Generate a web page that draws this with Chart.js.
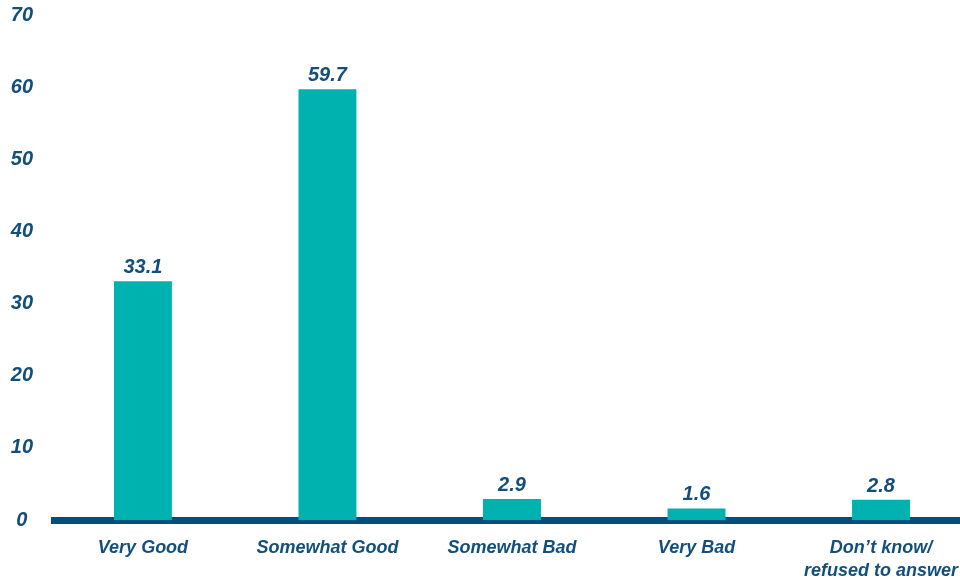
<!DOCTYPE html>
<html>
<head>
<meta charset="utf-8">
<script src="https://cdn.jsdelivr.net/npm/chart.js@4"></script>
<style>
  html, body { margin: 0; padding: 0; background: #ffffff; }
  #wrap { width: 960px; height: 580px; position: relative; }
</style>
</head>
<body>
<div id="wrap"><canvas id="chart"></canvas></div>
<script>
// categories and values
const categorias = ['Very Good', 'Somewhat Good', 'Somewhat Bad', 'Very Bad', ['Don\u2019t know/', 'refused to answer']];
const valores = [33.1, 59.7, 2.9, 1.6, 2.8];
const yTicks = [0, 10, 20, 30, 40, 50, 60, 70];

const corBarra = '#00B2AF';
const corTexto = '#124F7D';
const corBase = '#004F7F';
const fonte = 'Liberation Sans, Arial, sans-serif';

// rótulos de valor acima das barras
const rotulosPlugin = {
    id: 'rotulos',
    afterDatasetsDraw(chart) {
        const ctx = chart.ctx;
        const meta = chart.getDatasetMeta(0);
        ctx.save();
        ctx.font = 'italic bold 20px ' + fonte;
        ctx.fillStyle = corTexto;
        ctx.textAlign = 'center';
        ctx.textBaseline = 'alphabetic';
        meta.data.forEach((bar, i) => {
            ctx.fillText(valores[i].toFixed(1), bar.x, bar.y - 8);
        });
        ctx.restore();
    }
};

new Chart(document.getElementById('chart'), {
    type: 'bar',
    data: {
        datasets: [{
            data: valores.map((v, i) => ({ x: i, y: v })),
            backgroundColor: corBarra,
            borderWidth: 0,
            barPercentage: 0.314,
            categoryPercentage: 1
        }]
    },
    options: {
        responsive: true,
        maintainAspectRatio: false,
        animation: false,
        layout: { padding: { top: 0, left: 0, right: 0, bottom: 0 } },
        plugins: {
            legend: { display: false },
            tooltip: { enabled: false }
        },
        scales: {
            x: {
                type: 'linear',
                min: -0.482,
                max: 4.428,
                offset: false,
                z: 1,
                grid: { display: false, offset: false },
                border: { display: true, color: corBase, width: 7 },
                afterBuildTicks: (axis) => { axis.ticks = categorias.map((c, i) => ({ value: i })); },
                afterFit: (axis) => {
                    axis.height = 60;
                    axis.paddingLeft = 0;
                    axis.paddingRight = 0;
                },
                ticks: {
                    padding: 8,
                    color: corTexto,
                    maxRotation: 0,
                    autoSkip: false,
                    font: { family: fonte, size: 18, style: 'italic', weight: 'bold', lineHeight: 1.3 },
                    callback: (v) => categorias[v]
                }
            },
            y: {
                min: 0,
                max: 70,
                grid: { display: false },
                border: { display: false },
                afterBuildTicks: (axis) => { axis.ticks = yTicks.map(v => ({ value: v })); },
                afterFit: (axis) => {
                    axis.width = 54;
                    axis.paddingTop = 15;
                },
                ticks: {
                    crossAlign: 'center',
                    padding: 13,
                    color: corTexto,
                    font: { family: fonte, size: 20, style: 'italic', weight: 'bold' }
                }
            }
        }
    },
    plugins: [rotulosPlugin]
});
</script>
</body>
</html>
